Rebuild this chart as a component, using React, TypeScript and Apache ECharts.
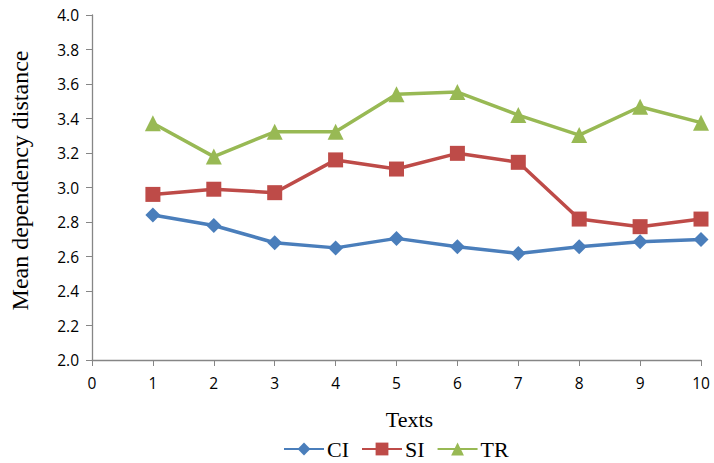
import React, { useEffect, useRef } from "react";
import * as echarts from "echarts";

const texts = [1, 2, 3, 4, 5, 6, 7, 8, 9, 10];
const ciValues = [2.84, 2.78, 2.68, 2.65, 2.705, 2.657, 2.618, 2.657, 2.686, 2.699];
const siValues = [2.96, 2.99, 2.97, 3.16, 3.107, 3.198, 3.146, 2.817, 2.773, 2.817];
const trValues = [3.372, 3.179, 3.323, 3.323, 3.54, 3.553, 3.42, 3.304, 3.468, 3.376];
const seriesNames = ["CI", "SI", "TR"];
const colors = ["#4a7ebb", "#be4b48", "#98b954"];

export default function App() {
  const ref = useRef<HTMLDivElement>(null);
  useEffect(() => {
    document.body.style.margin = "0";
    const chart = echarts.init(ref.current!, null, { renderer: "svg" });
    const values = [ciValues, siValues, trValues];
    const symbols = ["diamond", "rect", "triangle"];
    const sizes = [15, 15, 16];
    chart.setOption({
      animation: false,
      backgroundColor: "#ffffff",
      grid: { left: 86, right: 13, top: 15, bottom: 103 },
      legend: {
        top: 438,
        left: 283,
        padding: 0,
        itemWidth: 40,
        itemHeight: 16,
        itemGap: 12,
        textStyle: { fontFamily: "Liberation Serif", fontSize: 22, color: "#000", padding: [0, 0, 0, -2] },
        data: seriesNames,
      },
      xAxis: {
        type: "value",
        min: 0,
        max: 10,
        interval: 1,
        name: "Texts",
        nameLocation: "middle",
        nameGap: 48,
        nameTextStyle: { fontFamily: "Liberation Serif", fontSize: 22, color: "#000", padding: [0, 0, 0, 26] },
        axisLine: { lineStyle: { color: "#868686", width: 1.3 } },
        axisTick: { show: true, length: 6, lineStyle: { color: "#868686" } },
        axisLabel: { fontFamily: "Open Sans", fontSize: 15.5, color: "#000", margin: 15 },
        splitLine: { show: false },
      },
      yAxis: {
        type: "value",
        min: 2.0,
        max: 4.0,
        interval: 0.2,
        name: "Mean dependency distance",
        nameLocation: "middle",
        nameGap: 60,
        nameTextStyle: { fontFamily: "Liberation Serif", fontSize: 24, color: "#000", padding: [0, 0, 0, 14] },
        axisLine: { show: true, lineStyle: { color: "#868686", width: 1.3 } },
        axisTick: { show: true, length: 6, lineStyle: { color: "#868686" } },
        axisLabel: {
          fontFamily: "Open Sans",
          fontSize: 15.5,
          color: "#000",
          margin: 13,
          formatter: (v: number) => v.toFixed(1),
        },
        splitLine: { show: false },
      },
      series: seriesNames.map((name, i) => ({
        name,
        type: "line",
        data: texts.map((t, j) => [t, values[i][j]]),
        symbol: symbols[i],
        symbolSize: sizes[i],
        showAllSymbol: true,
        lineStyle: { color: colors[i], width: 3.5 },
        itemStyle: { color: colors[i] },
      })),
    });
    return () => chart.dispose();
  }, []);
  return <div ref={ref} style={{ width: 714, height: 463 }} />;
}
